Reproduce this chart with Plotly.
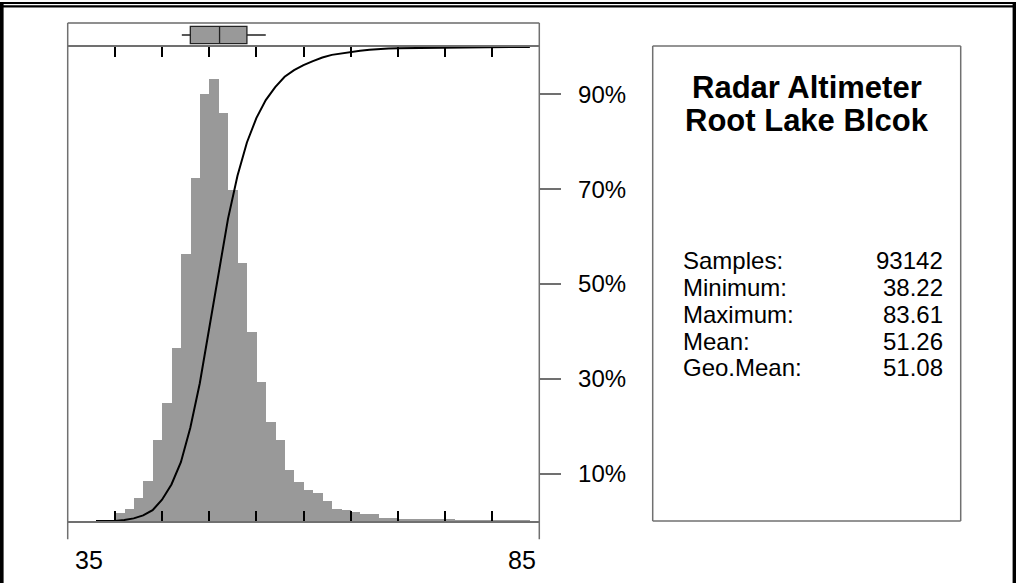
import plotly.graph_objects as go

# ---------------- data ----------------
bin_left = list(range(38, 84))          # 1-unit bins, left edges 38..83
hist_pct = [0.01, 0.01, 0.21, 0.32, 0.63, 1.09, 2.21, 3.22, 4.70, 7.28,
            9.34, 11.62, 12.04, 11.12, 9.02, 7.03, 5.16, 3.80, 2.71, 2.21,
            1.39, 1.06, 0.85, 0.76, 0.55, 0.33, 0.29, 0.25, 0.19, 0.19,
            0.08, 0.08, 0.03, 0.03, 0.03, 0.03, 0.03, 0.03, 0.01, 0.01,
            0.01, 0.01, 0.01, 0.01, 0.01, 0.01]
cdf_x = list(range(38, 85))
cdf_pct = [0.0, 0.01, 0.02, 0.23, 0.55, 1.18, 2.27, 4.48, 7.70, 12.40,
           19.68, 29.02, 40.64, 52.68, 63.80, 72.82, 79.85, 85.01, 88.81, 91.52,
           93.73, 95.12, 96.18, 97.03, 97.79, 98.34, 98.67, 98.96, 99.21, 99.40,
           99.59, 99.67, 99.75, 99.78, 99.81, 99.84, 99.87, 99.90, 99.93, 99.94,
           99.95, 99.96, 99.97, 99.98, 99.99, 100.0, 100.0]
box_stats = {"lowerfence": 47.1, "q1": 48.0, "median": 51.1, "q3": 54.0, "upperfence": 56.0}
x_ticks = [40, 45, 50, 55, 60, 65, 70, 75, 80]
x_end_labels = ["35", "85"]
pct_ticks = [10, 30, 50, 70, 90]
pct_labels = ["10%", "30%", "50%", "70%", "90%"]
title_lines = ["Radar Altimeter", "Root Lake Blcok"]
stat_names = ["Samples:", "Minimum:", "Maximum:", "Mean:", "Geo.Mean:"]
stat_values = ["93142", "38.22", "83.61", "51.26", "51.08"]

# ---------------- geometry helpers ----------------
W, H = 1016, 583
def px(x):
    return x / W
def py(y):
    return 1 - y / H

PL, PR = 67.7, 539.3          # plot left / right (px)
BOX_TOP, HIST_TOP, BASE = 23.0, 47.0, 521.0
FRAME_BOTTOM = 539.3
FONT = "Liberation Sans, Arial, sans-serif"
GRAY = "#999999"
LINEGRAY = "#707070"

peak = max(hist_pct)
hist_top_val = peak * (BASE - HIST_TOP) / (BASE - 79.0)

fig = go.Figure()

fig.add_trace(go.Bar(
    x=[b + 0.5 for b in bin_left], y=hist_pct, width=1.0,
    marker=dict(color=GRAY, line=dict(width=0)),
    xaxis="x", yaxis="y", hoverinfo="skip"))

fig.add_trace(go.Scatter(
    x=cdf_x, y=cdf_pct, mode="lines",
    line=dict(color="black", width=2),
    xaxis="x", yaxis="y2", hoverinfo="skip"))

fig.add_trace(go.Box(
    orientation="h", y=[0],
    q1=[box_stats["q1"]], median=[box_stats["median"]], q3=[box_stats["q3"]],
    lowerfence=[box_stats["lowerfence"]], upperfence=[box_stats["upperfence"]],
    fillcolor=GRAY, line=dict(color="#222222", width=1.3),
    whiskerwidth=0, width=0.72, boxpoints=False,
    xaxis="x2", yaxis="y3", hoverinfo="skip"))

xdom = [px(PL), px(PR)]
fig.update_layout(
    width=W, height=H,
    margin=dict(l=0, r=0, t=0, b=0),
    paper_bgcolor="white", plot_bgcolor="rgba(0,0,0,0)",
    showlegend=False, hovermode=False, bargap=0,
    font=dict(family=FONT, color="black"),
    xaxis=dict(domain=xdom, range=[35, 85], showgrid=False, zeroline=False,
               showline=True, linecolor=LINEGRAY, linewidth=1.5, mirror="ticks",
               ticks="inside", ticklen=10, tickwidth=2, tickcolor="black",
               tickvals=x_ticks, showticklabels=False, anchor="y"),
    yaxis=dict(domain=[py(BASE), py(HIST_TOP)], range=[0, hist_top_val],
               visible=False, anchor="x"),
    yaxis2=dict(domain=[py(BASE), py(HIST_TOP)], range=[0, 100], overlaying="y",
                side="right", anchor="x", showgrid=False, zeroline=False,
                showline=False, ticks="outside", ticklen=21, tickwidth=1.5,
                tickcolor=LINEGRAY, tickvals=pct_ticks, ticktext=pct_labels,
                tickfont=dict(size=24, family=FONT, color="black"),
                ticklabelstandoff=12),
    xaxis2=dict(domain=xdom, range=[35, 85], visible=False, anchor="y3"),
    yaxis3=dict(domain=[py(HIST_TOP), py(BOX_TOP)], range=[-0.5, 0.5],
                visible=False, anchor="x2"),
)

shapes = []
def rect(x0, y0, x1, y1, fill="black"):
    shapes.append(dict(type="rect", xref="paper", yref="paper",
                       x0=px(x0), x1=px(x1), y0=py(y1), y1=py(y0),
                       fillcolor=fill, line=dict(width=0), layer="above"))
def line(x0, y0, x1, y1, color=LINEGRAY, width=1.5):
    shapes.append(dict(type="line", xref="paper", yref="paper",
                       x0=px(x0), x1=px(x1), y0=py(y0), y1=py(y1),
                       line=dict(color=color, width=width), layer="above"))

# outer page border
rect(0, 2, W, 4)
rect(0, 5.3, 1013, 7.5)
rect(0, 2, 3.6, H)
rect(1012.6, 2, W, H)
# plot frame (open at the bottom)
line(PL, BOX_TOP, PR, BOX_TOP, color="#202020", width=1.2)
line(PL, BOX_TOP, PL, FRAME_BOTTOM)
line(PR, BOX_TOP, PR, FRAME_BOTTOM)
# statistics panel
line(652.7, 46, 960.7, 46); line(652.7, 521, 960.7, 521)
line(652.7, 46, 652.7, 521); line(960.7, 46, 960.7, 521)
fig.update_layout(shapes=shapes)

ann = []
ann.append(dict(x=px(73), y=py(560), xref="paper", yref="paper", text=x_end_labels[0],
                showarrow=False, xanchor="left", yanchor="middle",
                font=dict(size=25, family=FONT)))
ann.append(dict(x=px(538), y=py(560), xref="paper", yref="paper", text=x_end_labels[1],
                showarrow=False, xanchor="right", yanchor="middle",
                font=dict(size=25, family=FONT)))
for i, t in enumerate(title_lines):
    ann.append(dict(x=px(806.7), y=py(88 + 32 * i), xref="paper", yref="paper",
                    text="<b>%s</b>" % t, showarrow=False, xanchor="center",
                    yanchor="middle", font=dict(size=31, family=FONT)))
for i, (n, v) in enumerate(zip(stat_names, stat_values)):
    yc = 261 + 26.7 * i
    ann.append(dict(x=px(681), y=py(yc), xref="paper", yref="paper", text=n,
                    showarrow=False, xanchor="left", yanchor="middle",
                    font=dict(size=24, family=FONT)))
    ann.append(dict(x=px(945), y=py(yc), xref="paper", yref="paper", text=v,
                    showarrow=False, xanchor="right", yanchor="middle",
                    font=dict(size=24, family=FONT)))
fig.update_layout(annotations=ann)

fig.write_html("out.html",
               config={"displayModeBar": False},
               post_script="document.body.style.margin='0';"
                           "document.body.style.overflow='hidden';")
